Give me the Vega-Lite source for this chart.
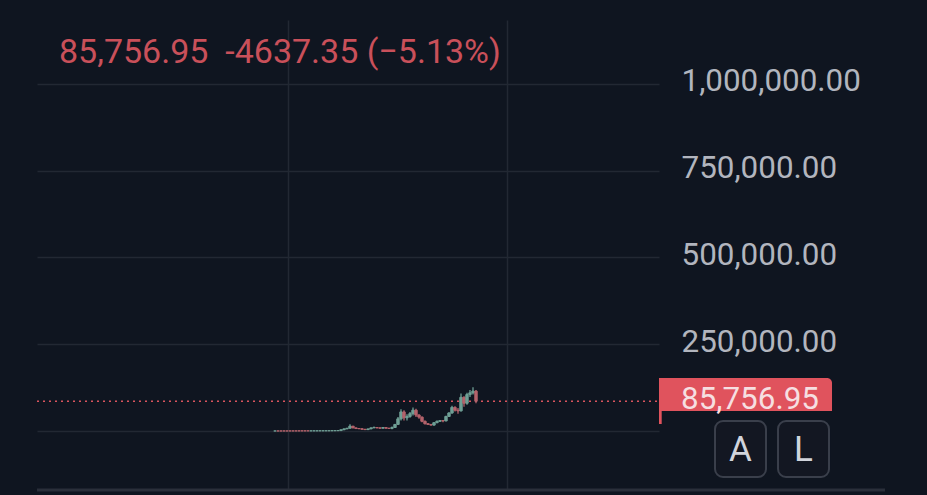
{
  "$schema": "https://vega.github.io/schema/vega-lite/v6.json",
  "width": 622,
  "height": 470,
  "autosize": "none",
  "padding": {"left": 37, "top": 20, "right": 268, "bottom": 5},
  "background": "#0f1520",
  "config": {"view": {"stroke": null}},
  "title": {
    "text": "85,756.95\u00a0\u00a0-4637.35 (−5.13%)",
    "anchor": "start",
    "frame": "group",
    "dx": 22,
    "dy": 54,
    "font": "Roboto",
    "fontSize": 34,
    "fontWeight": "normal",
    "color": "#c9505a"
  },
  "datasets": {
    "candles": [
      {"i": 0, "open": 100, "close": 100, "high": 100, "low": 100},
      {"i": 1, "open": 120, "close": 110, "high": 130, "low": 100},
      {"i": 2, "open": 150, "close": 130, "high": 160, "low": 120},
      {"i": 3, "open": 180, "close": 150, "high": 190, "low": 140},
      {"i": 4, "open": 220, "close": 180, "high": 230, "low": 170},
      {"i": 5, "open": 260, "close": 220, "high": 280, "low": 210},
      {"i": 6, "open": 300, "close": 260, "high": 320, "low": 250},
      {"i": 7, "open": 340, "close": 300, "high": 350, "low": 290},
      {"i": 8, "open": 380, "close": 340, "high": 400, "low": 330},
      {"i": 9, "open": 420, "close": 380, "high": 430, "low": 370},
      {"i": 10, "open": 450, "close": 420, "high": 470, "low": 410},
      {"i": 11, "open": 470, "close": 450, "high": 480, "low": 440},
      {"i": 12, "open": 450, "close": 480, "high": 500, "low": 440},
      {"i": 13, "open": 480, "close": 520, "high": 540, "low": 470},
      {"i": 14, "open": 520, "close": 560, "high": 580, "low": 510},
      {"i": 15, "open": 560, "close": 600, "high": 620, "low": 550},
      {"i": 16, "open": 600, "close": 640, "high": 660, "low": 590},
      {"i": 17, "open": 640, "close": 700, "high": 720, "low": 630},
      {"i": 18, "open": 700, "close": 780, "high": 800, "low": 690},
      {"i": 19, "open": 780, "close": 860, "high": 880, "low": 770},
      {"i": 20, "open": 860, "close": 1000, "high": 1050, "low": 850},
      {"i": 21, "open": 1000, "close": 1200, "high": 1300, "low": 950},
      {"i": 22, "open": 1200, "close": 3500, "high": 4000, "low": 1100},
      {"i": 23, "open": 3500, "close": 6000, "high": 7000, "low": 3200},
      {"i": 24, "open": 6000, "close": 8000, "high": 9000, "low": 5500},
      {"i": 25, "open": 8000, "close": 14000, "high": 19500, "low": 7500},
      {"i": 26, "open": 14000, "close": 9000, "high": 14500, "low": 8000},
      {"i": 27, "open": 9000, "close": 7000, "high": 9500, "low": 6500},
      {"i": 28, "open": 7000, "close": 6500, "high": 7500, "low": 6000},
      {"i": 29, "open": 6500, "close": 5000, "high": 7000, "low": 4500},
      {"i": 30, "open": 5000, "close": 4000, "high": 5500, "low": 3200},
      {"i": 31, "open": 4000, "close": 6000, "high": 6500, "low": 3500},
      {"i": 32, "open": 6000, "close": 9000, "high": 10000, "low": 5500},
      {"i": 33, "open": 9000, "close": 10000, "high": 13000, "low": 8500},
      {"i": 34, "open": 10000, "close": 9000, "high": 11000, "low": 8000},
      {"i": 35, "open": 9000, "close": 8000, "high": 10000, "low": 7000},
      {"i": 36, "open": 8000, "close": 10000, "high": 11000, "low": 7000},
      {"i": 37, "open": 10000, "close": 8000, "high": 11000, "low": 7000},
      {"i": 38, "open": 8000, "close": 7500, "high": 9000, "low": 6500},
      {"i": 39, "open": 7500, "close": 10000, "high": 13000, "low": 5000},
      {"i": 40, "open": 10000, "close": 19000, "high": 20000, "low": 9500},
      {"i": 41, "open": 19000, "close": 35000, "high": 40000, "low": 18000},
      {"i": 42, "open": 35000, "close": 55000, "high": 63000, "low": 30000},
      {"i": 43, "open": 55000, "close": 38000, "high": 60000, "low": 30000},
      {"i": 44, "open": 38000, "close": 42000, "high": 48000, "low": 30000},
      {"i": 45, "open": 42000, "close": 50000, "high": 55000, "low": 38000},
      {"i": 46, "open": 50000, "close": 60000, "high": 68000, "low": 45000},
      {"i": 47, "open": 60000, "close": 46000, "high": 64000, "low": 40000},
      {"i": 48, "open": 46000, "close": 40000, "high": 48000, "low": 35000},
      {"i": 49, "open": 40000, "close": 28000, "high": 42000, "low": 25000},
      {"i": 50, "open": 28000, "close": 21000, "high": 30000, "low": 19000},
      {"i": 51, "open": 21000, "close": 19000, "high": 23000, "low": 17000},
      {"i": 52, "open": 19000, "close": 17000, "high": 20000, "low": 15500},
      {"i": 53, "open": 17000, "close": 24000, "high": 25000, "low": 16000},
      {"i": 54, "open": 24000, "close": 28000, "high": 30000, "low": 22000},
      {"i": 55, "open": 28000, "close": 30000, "high": 31000, "low": 26000},
      {"i": 56, "open": 30000, "close": 29000, "high": 31000, "low": 25000},
      {"i": 57, "open": 29000, "close": 42000, "high": 44000, "low": 28000},
      {"i": 58, "open": 42000, "close": 52000, "high": 54000, "low": 40000},
      {"i": 59, "open": 52000, "close": 68000, "high": 73000, "low": 50000},
      {"i": 60, "open": 68000, "close": 60000, "high": 71000, "low": 56000},
      {"i": 61, "open": 60000, "close": 58000, "high": 66000, "low": 50000},
      {"i": 62, "open": 58000, "close": 97000, "high": 108000, "low": 56000},
      {"i": 63, "open": 97000, "close": 80000, "high": 100000, "low": 70000},
      {"i": 64, "open": 80000, "close": 105000, "high": 110000, "low": 76000},
      {"i": 65, "open": 105000, "close": 110000, "high": 118000, "low": 98000},
      {"i": 66, "open": 110000, "close": 115000, "high": 126000, "low": 105000},
      {"i": 67, "open": 115000, "close": 85757, "high": 118000, "low": 80000}
    ]
  },
  "encoding": {
    "x": {
      "field": "i",
      "type": "quantitative",
      "title": null,
      "scale": {"domain": [-79.33, 128], "nice": false, "zero": false, "padding": 0},
      "axis": {"values": [4.33, 77.33], "labels": false, "ticks": false, "domain": false, "grid": true, "gridColor": "#222833", "gridWidth": 1.5}
    },
    "y": {
      "field": "low",
      "type": "quantitative",
      "title": null,
      "scale": {"domain": [-170029, 1184438], "nice": false, "zero": false},
      "axis": {
        "orient": "right",
        "values": [0, 250000, 500000, 750000, 1000000],
        "labelExpr": "datum.value === 0 ? '' : format(datum.value, ',.2f')",
        "labelFont": "Roboto",
        "labelFontSize": 31.4,
        "labelColor": "#b2b5be",
        "labelPadding": 22,
        "labelOffset": -2,
        "labelBound": false,
        "labelFlush": false,
        "labelOverlap": false,
        "ticks": false,
        "domain": false,
        "grid": true,
        "gridColor": "#222833",
        "gridWidth": 1.5
      }
    }
  },
  "layer": [
    {
      "data": {"values": [{"i": -79.33, "i2": 203.33, "low": -170029}]},
      "mark": {"type": "rule", "color": "#2a2f3a", "strokeWidth": 3},
      "encoding": {"x2": {"field": "i2"}}
    },
    {
      "data": {"values": [{"i": -79.33, "i2": 128, "low": 85756.95}]},
      "mark": {"type": "rule", "color": "#d9545e", "strokeWidth": 1.5, "strokeDash": [2, 4]},
      "encoding": {"x2": {"field": "i2"}}
    },
    {
      "data": {"name": "candles"},
      "mark": {"type": "rule", "strokeWidth": 1.5, "opacity": 0.85},
      "encoding": {
        "y2": {"field": "high"},
        "color": {"condition": {"test": "datum.close >= datum.open", "value": "#6f9f95"}, "value": "#b4636c"}
      }
    },
    {
      "data": {"name": "candles"},
      "mark": {"type": "bar", "size": 2.4, "strokeWidth": 1},
      "encoding": {
        "y": {"field": "open", "type": "quantitative"},
        "y2": {"field": "close"},
        "fill": {"condition": {"test": "datum.close >= datum.open", "value": "#6f9f95"}, "value": "#b4636c"},
        "stroke": {"condition": {"test": "datum.close >= datum.open", "value": "#6f9f95"}, "value": "#b4636c"}
      }
    },
    {
      "data": {"values": [{"i": 128, "i2": 185.67, "low": 57637, "top": 152738}]},
      "mark": {"type": "rect", "color": "#e0535d", "cornerRadiusTopRight": 5},
      "encoding": {"x2": {"field": "i2"}, "y2": {"field": "top"}}
    },
    {
      "data": {"values": [{"i": 128, "i2": 128.9, "low": 20173, "top": 60000}]},
      "mark": {"type": "rect", "color": "#e0535d"},
      "encoding": {"x2": {"field": "i2"}, "y2": {"field": "top"}}
    },
    {
      "data": {"values": [{"i": 135.33, "low": 89000, "label": "85,756.95"}]},
      "mark": {"type": "text", "align": "left", "baseline": "middle", "font": "Roboto", "fontSize": 31.4, "color": "#f6dfe1"},
      "encoding": {"text": {"field": "label"}}
    },
    {
      "data": {"values": [
        {"i": 146.67, "i2": 163.67, "low": -132565, "top": 28818},
        {"i": 167.67, "i2": 184.67, "low": -132565, "top": 28818}
      ]},
      "mark": {"type": "rect", "fill": "#131722", "stroke": "#3a3f4b", "strokeWidth": 2, "cornerRadius": 8},
      "encoding": {"x2": {"field": "i2"}, "y2": {"field": "top"}}
    },
    {
      "data": {"values": [
        {"i": 155.17, "low": -54000, "label": "A"},
        {"i": 176.17, "low": -54000, "label": "L"}
      ]},
      "mark": {"type": "text", "align": "center", "baseline": "middle", "font": "Roboto", "fontSize": 35, "color": "#d1d4dc"},
      "encoding": {"text": {"field": "label"}}
    }
  ]
}
